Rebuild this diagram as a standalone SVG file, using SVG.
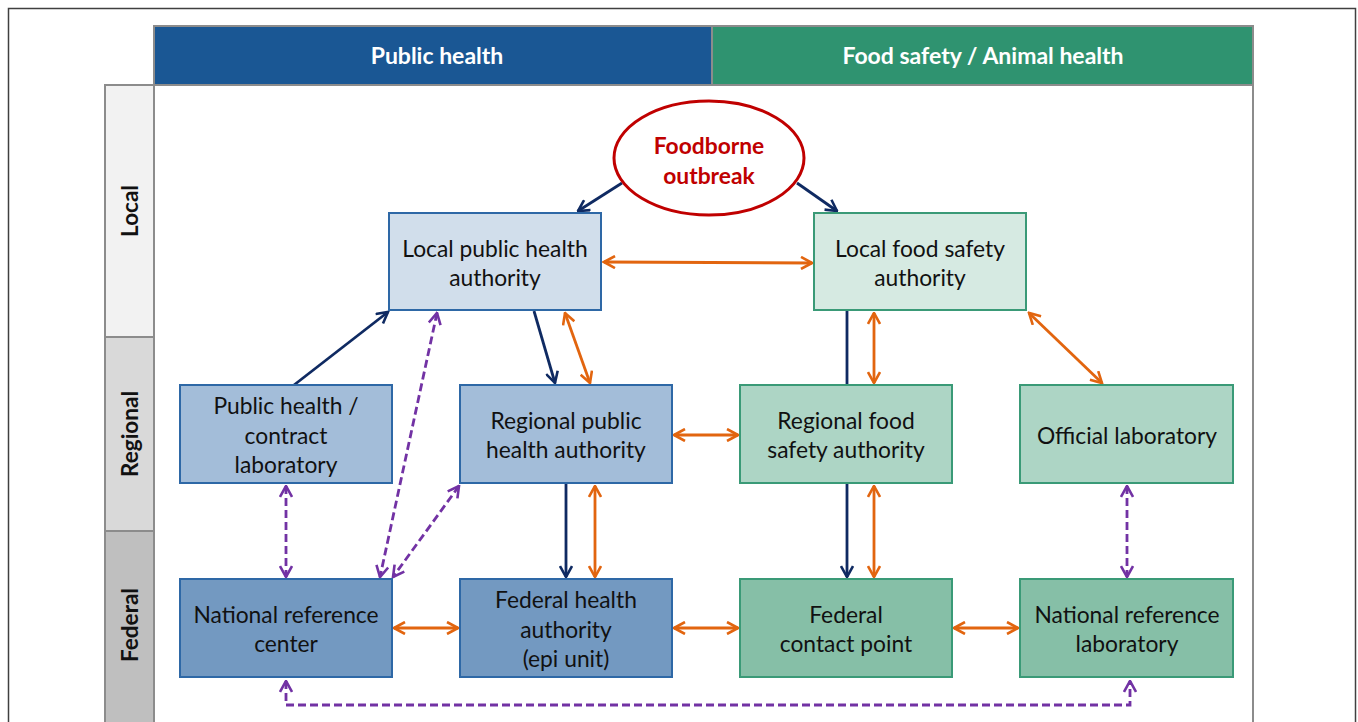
<svg xmlns="http://www.w3.org/2000/svg" width="1358" height="722" viewBox="0 0 1358 722">
<defs>
<style>
.t{font-family:Lato,"Open Sans","Liberation Sans",sans-serif;font-size:22.8px;fill:#111;text-anchor:middle}
.hd{font-family:Lato,"Open Sans","Liberation Sans",sans-serif;font-size:23px;font-weight:bold;fill:#fff;text-anchor:middle}
.lv{font-family:Lato,"Open Sans","Liberation Sans",sans-serif;font-size:22.5px;font-weight:bold;fill:#111;text-anchor:middle}
.ph1{fill:#d1deeb;stroke:#2e68a6;stroke-width:2}
.ph2{fill:#a3bdd9;stroke:#2e68a6;stroke-width:2}
.ph3{fill:#7399c1;stroke:#2e68a6;stroke-width:2}
.fs1{fill:#d6eae2;stroke:#3a9a77;stroke-width:2}
.fs2{fill:#add5c5;stroke:#3a9a77;stroke-width:2}
.fs3{fill:#86bfa7;stroke:#3a9a77;stroke-width:2}
.nv{stroke:#0f2a62;stroke-width:2.8;fill:none}
.or{stroke:#e2650f;stroke-width:2.8;fill:none}
.pu{stroke:#7232a4;stroke-width:2.8;fill:none;stroke-dasharray:8 4}
</style>
<marker id="mn" viewBox="0 0 14 14" refX="12.5" refY="7" markerWidth="14" markerHeight="14" markerUnits="userSpaceOnUse" orient="auto-start-reverse"><path d="M1.5,1 L12.5,7 L1.5,13" fill="none" stroke="#0f2a62" stroke-width="2.6"/></marker>
<marker id="mo" viewBox="0 0 14 14" refX="12.5" refY="7" markerWidth="14" markerHeight="14" markerUnits="userSpaceOnUse" orient="auto-start-reverse"><path d="M1.5,1 L12.5,7 L1.5,13" fill="none" stroke="#e2650f" stroke-width="2.6"/></marker>
<marker id="mp" viewBox="0 0 14 14" refX="12.5" refY="7" markerWidth="14" markerHeight="14" markerUnits="userSpaceOnUse" orient="auto-start-reverse"><path d="M1.5,1 L12.5,7 L1.5,13" fill="none" stroke="#7232a4" stroke-width="2.6"/></marker>
</defs>
<rect x="0" y="0" width="1358" height="722" fill="#fff"/>
<rect x="8.5" y="8.5" width="1347" height="730" fill="none" stroke="#404040" stroke-width="1.5"/>

<g id="frame">
<rect x="154" y="85" width="1099" height="650" fill="#fff" stroke="#8c8c8c" stroke-width="2"/>
<rect x="154" y="26" width="558" height="59" fill="#1a5794" stroke="#8c8c8c" stroke-width="2"/>
<rect x="712" y="26" width="541" height="59" fill="#2f9370" stroke="#8c8c8c" stroke-width="2"/>
<text class="hd" x="437" y="64">Public health</text>
<text class="hd" x="983" y="64">Food safety / Animal health</text>
<rect x="105" y="85" width="49" height="252" fill="#f2f2f2" stroke="#8c8c8c" stroke-width="2"/>
<rect x="105" y="337" width="49" height="194" fill="#d9d9d9" stroke="#8c8c8c" stroke-width="2"/>
<rect x="105" y="531" width="49" height="210" fill="#bfbfbf" stroke="#8c8c8c" stroke-width="2"/>
<text class="lv" transform="translate(138,211) rotate(-90)">Local</text>
<text class="lv" transform="translate(138,434) rotate(-90)">Regional</text>
<text class="lv" transform="translate(138,625) rotate(-90)">Federal</text>
</g>

<g id="connectors">
<line class="nv" x1="622" y1="183" x2="578" y2="211" marker-end="url(#mn)"/>
<line class="nv" x1="797" y1="183" x2="837" y2="211" marker-end="url(#mn)"/>
<line class="or" x1="604" y1="262" x2="812" y2="263" marker-start="url(#mo)" marker-end="url(#mo)"/>
<line class="nv" x1="294" y1="385" x2="388" y2="312" marker-end="url(#mn)"/>
<line class="pu" x1="437" y1="313" x2="380" y2="577" marker-start="url(#mp)" marker-end="url(#mp)"/>
<line class="pu" x1="459" y1="486" x2="393" y2="577" marker-start="url(#mp)" marker-end="url(#mp)"/>
<line class="pu" x1="286" y1="486" x2="286" y2="577" marker-start="url(#mp)" marker-end="url(#mp)"/>
<line class="nv" x1="534" y1="311" x2="555" y2="383" marker-end="url(#mn)"/>
<line class="or" x1="565" y1="313" x2="590" y2="383" marker-start="url(#mo)" marker-end="url(#mo)"/>
<line class="or" x1="674" y1="435" x2="738" y2="435" marker-start="url(#mo)" marker-end="url(#mo)"/>
<line class="nv" x1="566" y1="484" x2="566" y2="577" marker-end="url(#mn)"/>
<line class="or" x1="595" y1="486" x2="595" y2="577" marker-start="url(#mo)" marker-end="url(#mo)"/>
<line class="nv" x1="847" y1="311" x2="847" y2="385"/>
<line class="or" x1="874" y1="313" x2="874" y2="383" marker-start="url(#mo)" marker-end="url(#mo)"/>
<line class="or" x1="1029" y1="313" x2="1102" y2="383" marker-start="url(#mo)" marker-end="url(#mo)"/>
<line class="nv" x1="847" y1="484" x2="847" y2="577" marker-end="url(#mn)"/>
<line class="or" x1="874" y1="486" x2="874" y2="577" marker-start="url(#mo)" marker-end="url(#mo)"/>
<line class="pu" x1="1127" y1="486" x2="1127" y2="577" marker-start="url(#mp)" marker-end="url(#mp)"/>
<line class="or" x1="394" y1="628" x2="458" y2="628" marker-start="url(#mo)" marker-end="url(#mo)"/>
<line class="or" x1="674" y1="628" x2="738" y2="628" marker-start="url(#mo)" marker-end="url(#mo)"/>
<line class="or" x1="954" y1="628" x2="1018" y2="628" marker-start="url(#mo)" marker-end="url(#mo)"/>
<polyline class="pu" points="286,681 286,705 1130,705 1130,681" marker-start="url(#mp)" marker-end="url(#mp)"/>
</g>

<g id="outbreak">
<ellipse cx="709" cy="158" rx="95" ry="57" fill="#fff" stroke="#c00000" stroke-width="3"/>
<text class="t" x="709" y="154" style="fill:#c00000;font-weight:bold">Foodborne</text>
<text class="t" x="709" y="184" style="fill:#c00000;font-weight:bold">outbreak</text>
</g>
<g id="local-ph"><rect class="ph1" x="389" y="213" width="212" height="97"/>
<text class="t" x="495" y="257">Local public health</text><text class="t" x="495" y="286">authority</text></g>
<g id="local-fs"><rect class="fs1" x="814" y="213" width="212" height="97"/>
<text class="t" x="920" y="257">Local food safety</text><text class="t" x="920" y="286">authority</text></g>
<g id="ph-lab"><rect class="ph2" x="180" y="385" width="212" height="98"/>
<text class="t" x="286" y="414">Public health /</text><text class="t" x="286" y="444">contract</text><text class="t" x="286" y="473">laboratory</text></g>
<g id="reg-ph"><rect class="ph2" x="460" y="385" width="212" height="98"/>
<text class="t" x="566" y="429">Regional public</text><text class="t" x="566" y="458">health authority</text></g>
<g id="reg-fs"><rect class="fs2" x="740" y="385" width="212" height="98"/>
<text class="t" x="846" y="429">Regional food</text><text class="t" x="846" y="458">safety authority</text></g>
<g id="off-lab"><rect class="fs2" x="1020" y="385" width="213" height="98"/>
<text class="t" x="1127" y="444">Official laboratory</text></g>
<g id="nrc"><rect class="ph3" x="180" y="579" width="212" height="98"/>
<text class="t" x="286" y="623">National reference</text><text class="t" x="286" y="652">center</text></g>
<g id="fed-ph"><rect class="ph3" x="460" y="579" width="212" height="98"/>
<text class="t" x="566" y="608">Federal health</text><text class="t" x="566" y="638">authority</text><text class="t" x="566" y="667">(epi unit)</text></g>
<g id="fed-cp"><rect class="fs3" x="740" y="579" width="212" height="98"/>
<text class="t" x="846" y="623">Federal</text><text class="t" x="846" y="652">contact point</text></g>
<g id="nrl"><rect class="fs3" x="1020" y="579" width="213" height="98"/>
<text class="t" x="1127" y="623">National reference</text><text class="t" x="1127" y="652">laboratory</text></g>
</svg>
